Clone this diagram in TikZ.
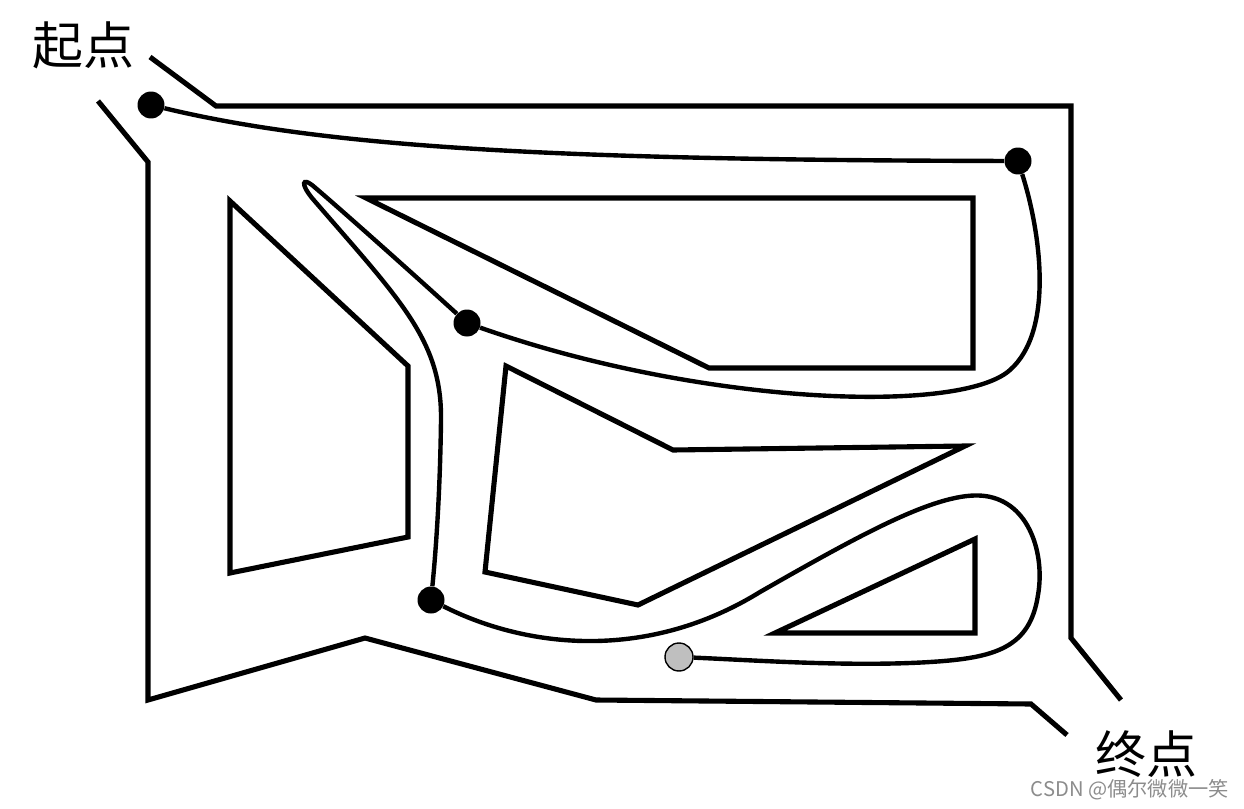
\documentclass[tikz,border=0pt]{standalone}
\usepackage{fontspec}
\newfontfamily\cjk{Noto Sans CJK SC}
\begin{document}
\begin{tikzpicture}[x=0.02cm,y=-0.02cm,
  wall/.style={line width=2.9pt,line join=miter},
  route/.style={line width=2.5pt},
  dot/.style={circle,fill=black,inner sep=0pt,minimum size=0.54cm},
  enddot/.style={circle,fill=black!25,draw=black,line width=0.8pt,inner sep=0pt,minimum size=0.56cm},
  lbl/.style={font=\cjk\fontsize{29}{30}\selectfont,inner sep=0pt},
  wm/.style={font=\cjk\fontsize{11.5}{12}\selectfont,text=black!45,inner sep=0pt}]
\useasboundingbox (0,0) rectangle (1244,808);
% outer walls
\draw[wall] (150,57) -- (216,106) -- (1071,106) -- (1071,638) -- (1121,700);
\draw[wall] (98,101) -- (148,162) -- (148,700) -- (365,638) -- (596,700) -- (1031,704) -- (1067,735);
% inner obstacles
\draw[wall] (230,201) -- (408,366) -- (408,537) -- (230,573) -- cycle;
\draw[wall] (366,198) -- (973,198) -- (973,368) -- (709,368) -- cycle;
\draw[wall] (506,366) -- (673,450) -- (965,446) -- (638,605) -- (485,572) -- cycle;
\draw[wall] (975,539) -- (975,633) -- (775,633) -- cycle;
% nodes
\node[dot] (s) at (151,105) {};
\node[dot] (a) at (1018,161) {};
\node[dot] (b) at (467,323) {};
\node[dot] (c) at (431,600) {};
\node[enddot] (e) at (679,657) {};
% route
\draw[route] (s) .. controls (330,148) and (560,160) .. (a);
\draw[route] (a) .. controls (1040,230) and (1055,330) .. (1010,370)
  .. controls (960,415) and (700,405) .. (b);
\draw[route] (b) .. controls (400,262) and (330,200) .. (312,185)
  .. controls (303,178) and (300,183) .. (312,198)
  .. controls (400,300) and (442,340) .. (441,420)
  .. controls (440,500) and (435,560) .. (c);
\draw[route] (c) .. controls (530,650) and (650,660) .. (760,592)
  .. controls (860,535) and (940,490) .. (985,496)
  .. controls (1030,502) and (1045,555) .. (1038,595)
  .. controls (1030,648) and (995,658) .. (930,662)
  .. controls (850,667) and (750,660) .. (e);
% labels
\node[lbl] (start) at (83,45) {起点};
\node[lbl] (goal) at (1146,754) {终点};
\node[wm,anchor=east] (mark) at (1229,790) {CSDN @偶尔微微一笑};
\end{tikzpicture}
\end{document}
